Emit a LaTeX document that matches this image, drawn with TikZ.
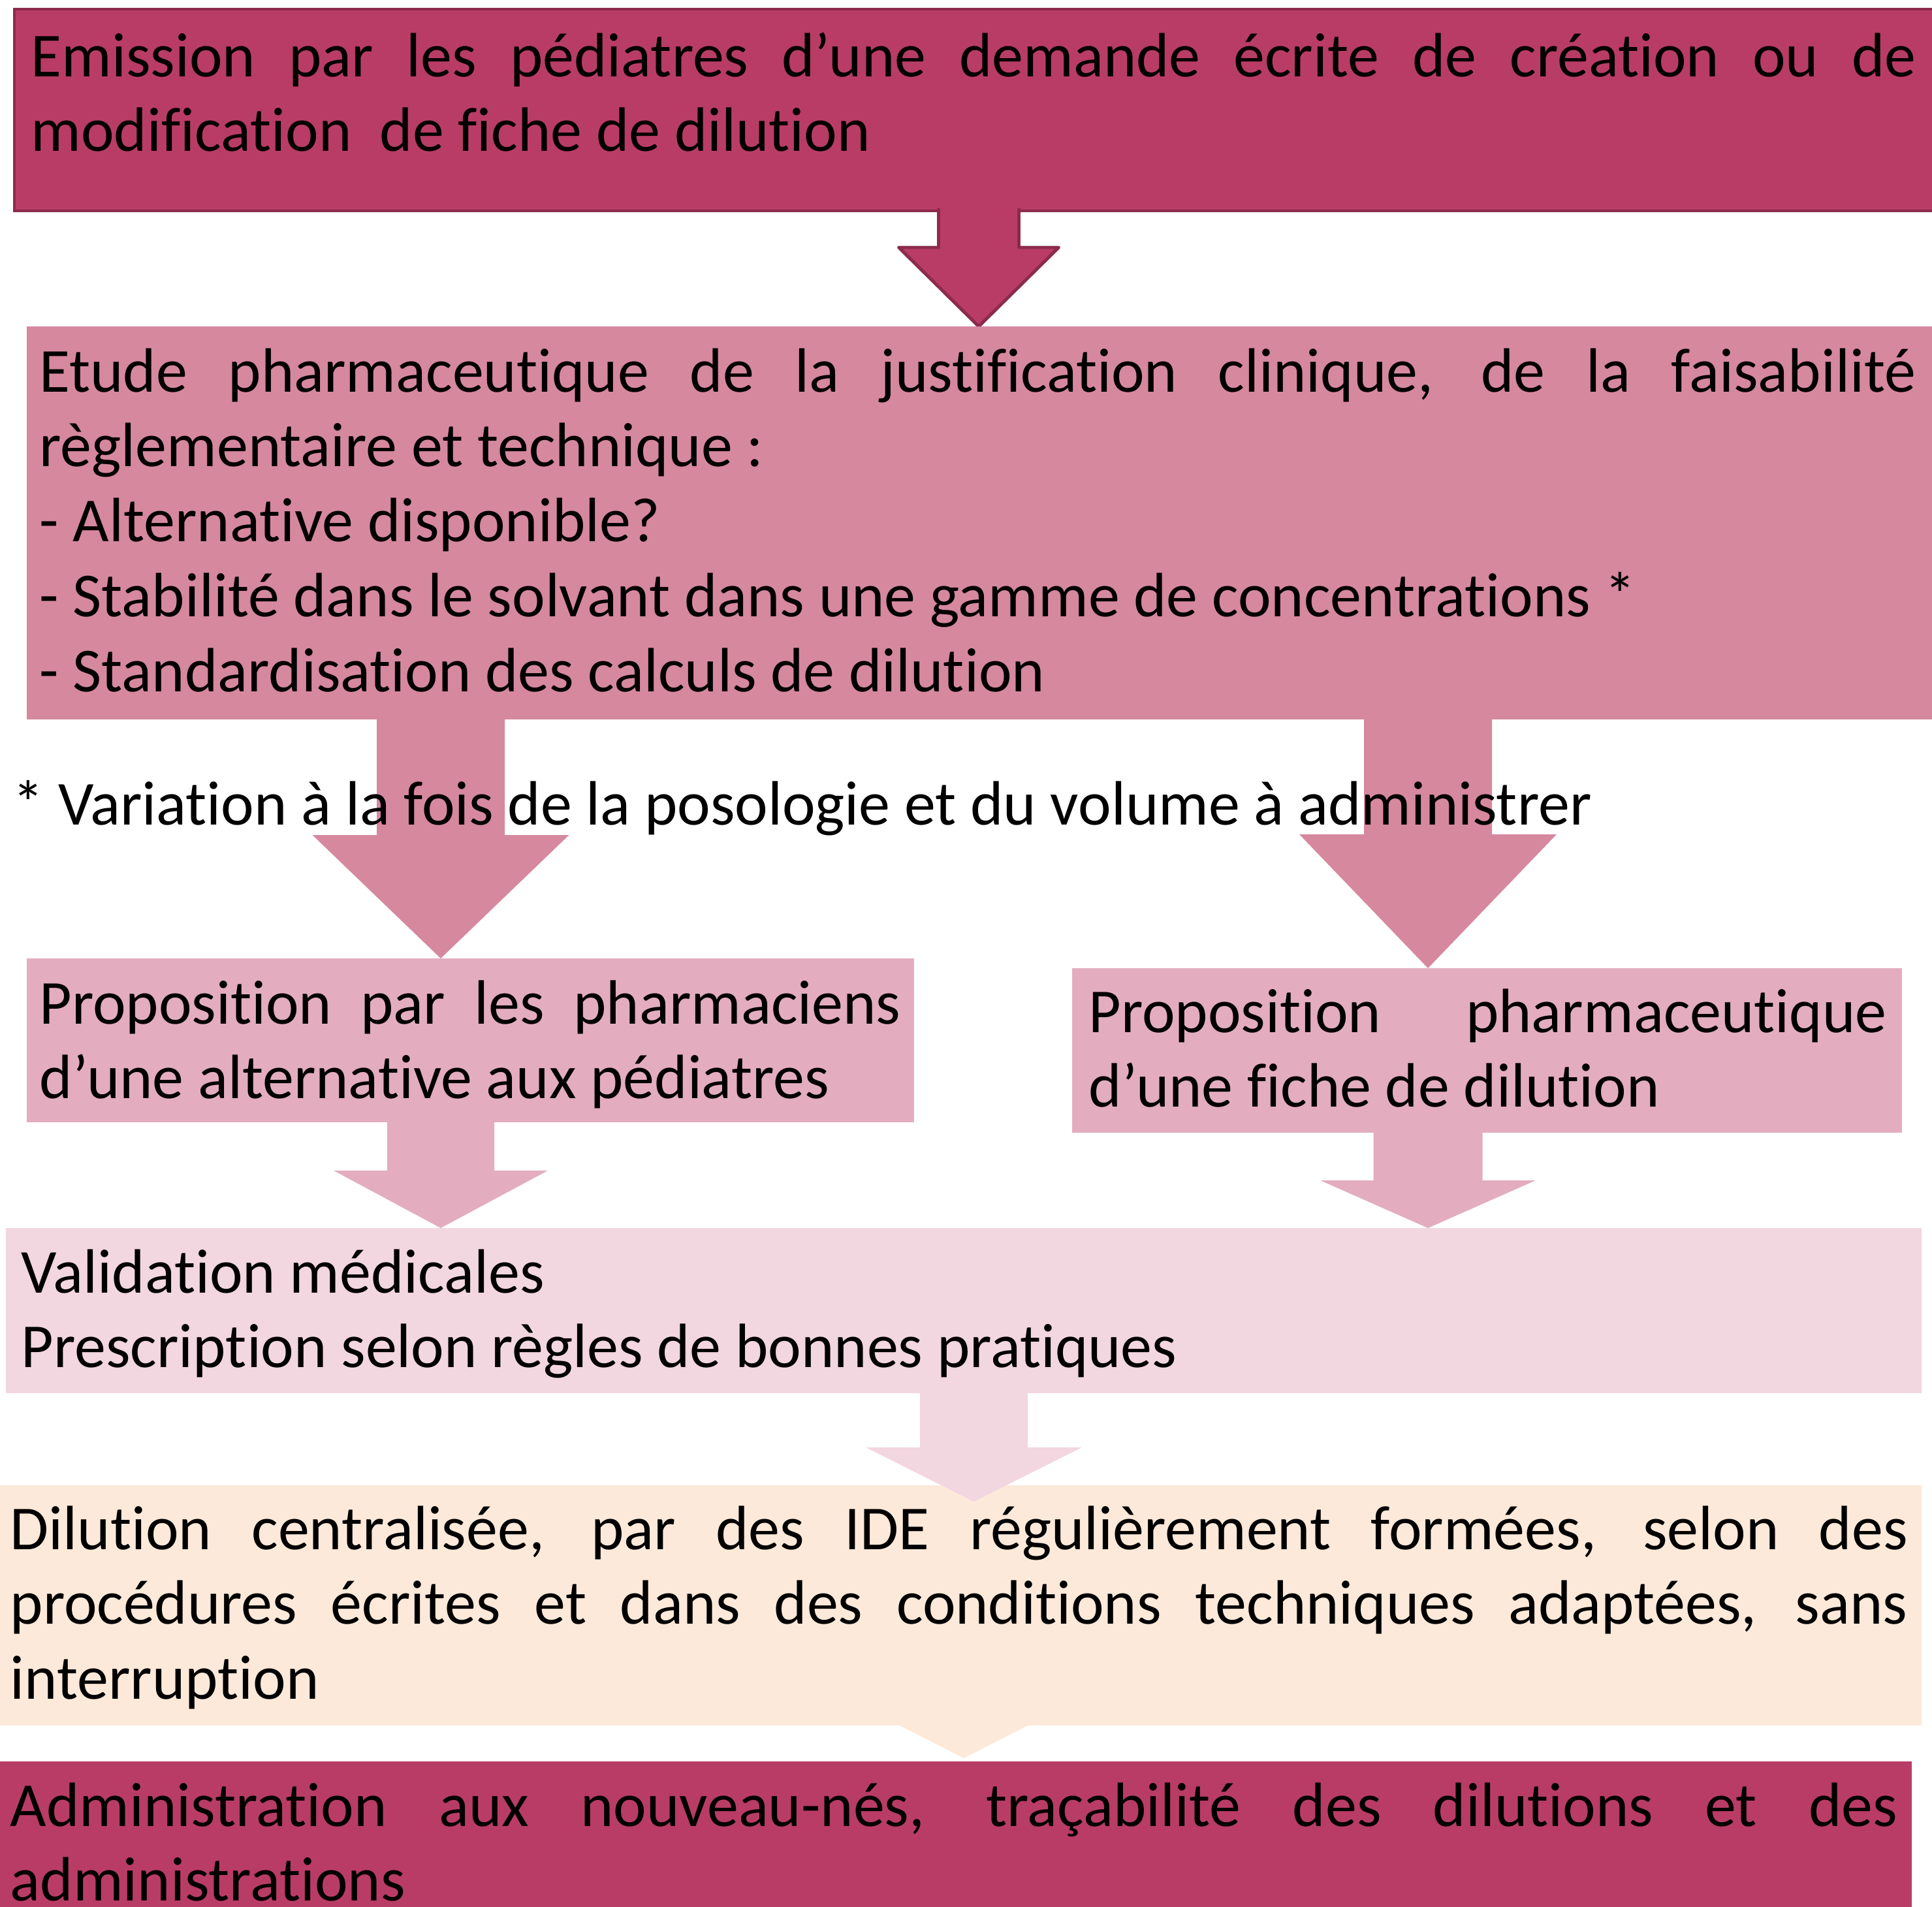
\documentclass[tikz,border=0pt]{standalone}
\usepackage{fontspec}
\setmainfont{Carlito}
\font\calibri="Carlito:-liga;-clig;-calt;-dlig;-rlig" at 27.3pt
\usetikzlibrary{calc}
\definecolor{roseDark}{HTML}{B93C67}
\definecolor{roseLine}{HTML}{8C2B4C}
\definecolor{roseMid}{HTML}{D6889F}
\definecolor{roseLight}{HTML}{E3ADBF}
\definecolor{rosePale}{HTML}{F2D6E0}
\definecolor{peach}{HTML}{FDE9D9}
\tikzstyle{box} = [rectangle, anchor=north west, inner sep=0pt, outer sep=0pt]
\tikzstyle{txt} = [anchor=base west, inner sep=0pt, align=justify, font=\fontsize{27.3}{32.7}\selectfont\calibri]
\hyphenpenalty=10000
\exhyphenpenalty=10000
% block arrow: [outline]{fill}{top centre}{tip}{shaft half}{head half}{neck depth}
\newcommand{\blockarrow}[7][draw=none]{%
  \fill[#2] ($(#3)+(-#5,0)$) -- ($(#3)+(-#5,-#7)$) -- ($(#3)+(-#6,-#7)$) -- (#4) -- ($(#3)+(#6,-#7)$) -- ($(#3)+(#5,-#7)$) -- ($(#3)+(#5,0)$) -- cycle;
  \draw[#1, line join=round] ($(#3)+(-#5,0)$) -- ($(#3)+(-#5,-#7)$) -- ($(#3)+(-#6,-#7)$) -- (#4) -- ($(#3)+(#6,-#7)$) -- ($(#3)+(#5,-#7)$) -- ($(#3)+(#5,0)$);}

\begin{document}
\begin{tikzpicture}
  \useasboundingbox (0,0) rectangle (29.59,-29.20);

  % demande
  \node [box, fill=roseDark, draw=roseLine, line width=1.4pt, minimum width=29.6cm, minimum height=3.09cm] (emis) at (0.22,-0.14) {};
  \coordinate (a1 top) at (14.99,-3.19);
  \blockarrow[draw=roseLine, line width=1.4pt]{roseDark}{a1 top}{a1 top |- 0,-5.00}{0.615}{1.225}{0.60}

  % etude pharmaceutique
  \node [box, fill=roseMid, minimum width=29.4cm, minimum height=6.02cm] (etude) at (0.41,-5.00) {};
  \coordinate (a2 top) at (6.75,-10.98);
  \coordinate (a3 top) at (21.87,-10.98);
  \node [box, fill=roseLight, minimum width=13.59cm, minimum height=2.51cm] (altern) at (0.41,-14.68) {};
  \node [box, fill=roseLight, minimum width=12.71cm, minimum height=2.52cm] (fiche) at (16.42,-14.83) {};
  \blockarrow{roseMid}{a2 top}{a2 top |- altern.north}{0.98}{1.965}{1.81}
  \blockarrow{roseMid}{a3 top}{a3 top |- fiche.north}{0.98}{1.97}{1.80}

  % validation
  \node [box, fill=rosePale, minimum width=29.34cm, minimum height=2.53cm] (valid) at (0.09,-18.81) {};
  \coordinate (a4 top) at (6.75,-17.15);
  \coordinate (a5 top) at (21.87,-17.31);
  \blockarrow{roseLight}{a4 top}{a4 top |- valid.north}{0.82}{1.64}{0.78}
  \blockarrow{roseLight}{a5 top}{a5 top |- valid.north}{0.835}{1.65}{0.77}

  % dilution et administration
  \node [box, fill=peach, minimum width=29.53cm, minimum height=3.68cm] (dilut) at (-0.1,-22.75) {};
  \node [box, fill=roseDark, minimum width=29.38cm, minimum height=2.6cm] (admin) at (-0.1,-26.98) {};
  \coordinate (a6 top) at (14.915,-21.30);
  \coordinate (a7 top) at (14.76,-26.40);
  \blockarrow{rosePale}{a6 top}{14.915,-23.00}{0.825}{1.655}{0.87}
  \blockarrow{peach}{a7 top}{a7 top |- 0,-26.93}{0.98}{0.98}{0.03}

  % textes
  \node [txt, text width=28.87cm] (emis text) at (0.47,-1.17) {Emission par les pédiatres d’une demande écrite de création ou de\linebreak modification~ de fiche de dilution};
  \node [txt, text width=28.74cm] (etude text) at (0.60,-6.00) {Etude pharmaceutique de la justification clinique, de la faisabilité\linebreak règlementaire et technique :\\- Alternative disponible?\\- Stabilité dans le solvant dans une gamme de concentrations *\\- Standardisation des calculs de dilution};
  \node [txt, align=flush left, text width=28cm] (note) at (0.19,-12.63) {* Variation à la fois de la posologie et du volume à administrer};
  \node [txt, text width=13.19cm] (altern text) at (0.60,-15.68) {Proposition par les pharmaciens\linebreak d’une alternative aux pédiatres};
  \node [txt, text width=12.22cm] (fiche text) at (16.67,-15.81) {Proposition pharmaceutique\linebreak d’une fiche de dilution};
  \node [txt, align=flush left, text width=28cm] (valid text) at (0.32,-19.80) {Validation médicales\\Prescription selon règles de bonnes pratiques};
  \node [txt, text width=29.06cm] (dilut text) at (0.15,-23.73) {Dilution centralisée, par des IDE régulièrement formées, selon des\linebreak procédures écrites et dans des conditions techniques adaptées, sans\linebreak interruption};
  \node [txt, text width=28.91cm] (admin text) at (0.15,-27.97) {Administration aux nouveau-nés, traçabilité des dilutions et des\linebreak administrations};
\end{tikzpicture}
\end{document}
